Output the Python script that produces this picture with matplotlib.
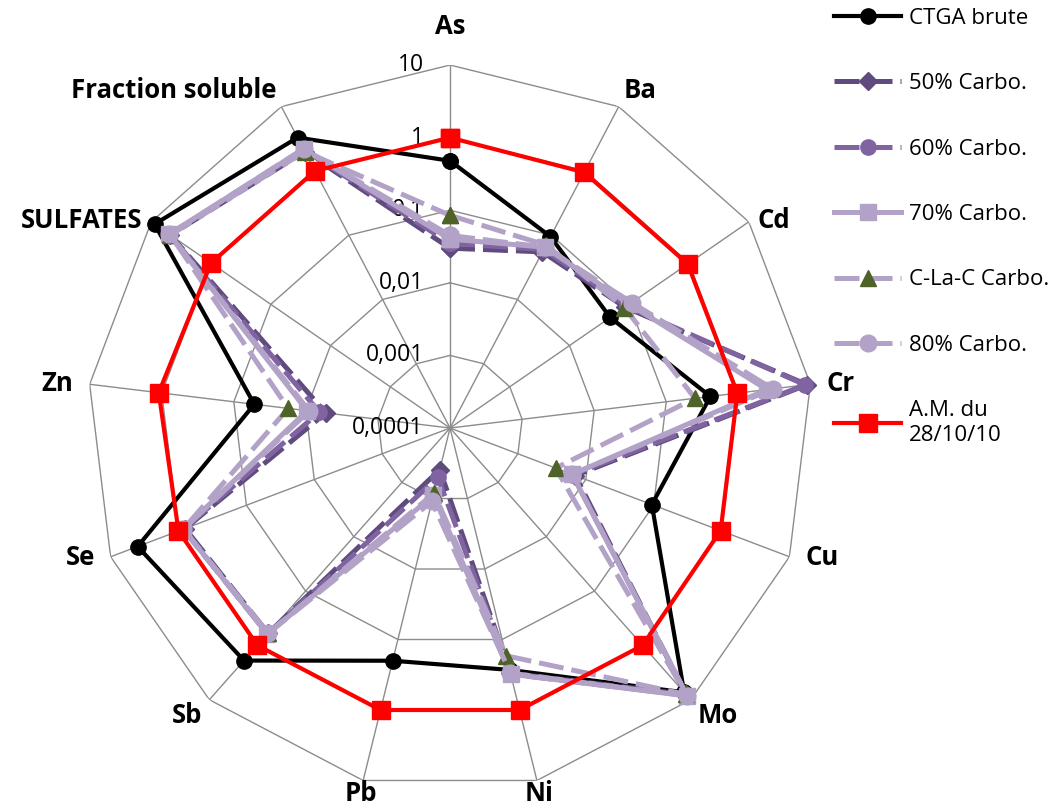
import numpy as np
import matplotlib
matplotlib.use("Agg")
import matplotlib.pyplot as plt

plt.rcParams['font.family'] = ['Open Sans', 'DejaVu Sans']

# categories (clockwise from top)
categories = ['As', 'Ba', 'Cd', 'Cr', 'Cu', 'Mo', 'Ni', 'Pb', 'Sb', 'Se', 'Zn',
              'SULFATES', 'Fraction soluble']

# series values (log radial scale)
ctga_brute = [0.48, 0.095, 0.048, 0.41, 0.094, 7.3, 0.27, 0.20, 1.9, 4.0, 0.052, 8.8, 3.3]
carbo_50 = [0.03, 0.055, 0.085, 9.0, 0.007, 8.0, 0.30, 0.00039, 0.6, 0.8, 0.0053, 4.8, 2.0]
carbo_60 = [0.035, 0.06, 0.09, 8.5, 0.0065, 8.3, 0.31, 0.0005, 0.62, 0.85, 0.0065, 5.0, 2.1]
carbo_70 = [0.04, 0.065, 0.10, 2.5, 0.0063, 8.5, 0.31, 0.0009, 0.62, 0.85, 0.0096, 5.0, 2.2]
carbo_clac = [0.085, 0.07, 0.083, 0.25, 0.0036, 8.0, 0.17, 0.00084, 0.6, 0.85, 0.0176, 4.8, 2.0]
carbo_80 = [0.045, 0.065, 0.11, 3.0, 0.0063, 8.5, 0.30, 0.0011, 0.6, 0.85, 0.009, 5.0, 2.2]
am_281010 = [1.0, 0.95, 0.95, 0.97, 0.97, 1.0, 1.0, 1.0, 1.0, 1.0, 1.1, 1.0, 1.0]

ring_values = [0.0001, 0.001, 0.01, 0.1, 1, 10]
ring_labels = ['0,0001', '0,001', '0,01', '0,1', '1', '10']

n = len(categories)
theta = np.linspace(0, 2 * np.pi, n, endpoint=False)
theta_closed = np.append(theta, theta[0])

fig = plt.figure(figsize=(10.6, 8.08), dpi=100)
ax = fig.add_axes([0.0821, 0.021, 0.6849, 0.8985], projection='polar')
ax.set_theta_offset(np.pi / 2)
ax.set_theta_direction(-1)
ax.set_rscale('log')
ax.set_rlim(ring_values[0], ring_values[-1])
ax.grid(False)
ax.set_xticks([])
ax.set_yticks([])
ax.spines['polar'].set_visible(False)

grid_color = '#8c8c8c'
# polygon rings
for v in ring_values[1:]:
    ax.plot(theta_closed, [v] * (n + 1), color=grid_color, lw=1.0, zorder=1)
# spokes
for t in theta:
    ax.plot([t, t], [ring_values[0], ring_values[-1]], color=grid_color, lw=1.0, zorder=1)

# ring labels along the top axis
for v, lab in zip(ring_values, ring_labels):
    ax.annotate(lab, xy=(0, v), xytext=(-19, 0), textcoords='offset points',
                ha='right', va='center', fontsize=16.5, color='black', zorder=2)

# category labels
for t, cat in zip(theta, categories):
    c = np.sin(t)   # screen x direction
    s = np.cos(t)   # screen y direction
    ha = 'left' if c > 0.3 else ('right' if c < -0.3 else 'center')
    va = 'bottom' if s > 0.6 else ('top' if s < -0.6 else 'center')
    dx = c * 12 if abs(c) > 0.9 else c * 8
    dy = 18 if s > 0.95 else s * 2
    if s < -0.9:
        va, dy = 'baseline', -15
    ax.annotate(cat, xy=(t, ring_values[-1]), xytext=(dx, dy),
                textcoords='offset points', ha=ha, va=va,
                fontsize=18.5, fontweight='bold', annotation_clip=False)

lavender = '#b3a2c7'
series = [
    ('CTGA brute', ctga_brute, dict(color='black', marker='o', ms=11, ls='-', mfc='black', mec='black')),
    ('50% Carbo.', carbo_50, dict(color='#5f4b7d', marker='D', ms=9, ls=(0, (5, 1.6)), mfc='#5f4b7d', mec='#5f4b7d')),
    ('60% Carbo.', carbo_60, dict(color='#8064a2', marker='o', ms=11, ls=(0, (5, 1.6)), mfc='#8064a2', mec='#8064a2')),
    ('70% Carbo.', carbo_70, dict(color=lavender, marker='s', ms=12, ls='-', mfc=lavender, mec=lavender)),
    ('C-La-C Carbo.', carbo_clac, dict(color=lavender, marker='^', ms=11, ls=(0, (5, 1.6)), mfc='#4f6228', mec='#4f6228')),
    ('80% Carbo.', carbo_80, dict(color=lavender, marker='o', ms=12, ls=(0, (5, 1.6)), mfc=lavender, mec=lavender)),
    ('A.M. du\n28/10/10', am_281010, dict(color='#ff0000', marker='s', ms=13, ls='-', mfc='#ff0000', mec='#ff0000')),
]

handles = []
for i, (label, vals, style) in enumerate(series):
    lw = 3.0 if label in ('CTGA brute', 'A.M. du\n28/10/10') else 3.6
    line, = ax.plot(theta_closed, np.append(vals, vals[0]), lw=lw, label=label,
                    zorder=3 + i, clip_on=False, **style)
    handles.append(line)

fig.legend(handles=handles, loc='upper left', bbox_to_anchor=(0.783, 0.996),
           frameon=False, fontsize=16, handlelength=3.0, handletextpad=0.36,
           labelspacing=2.0, borderaxespad=0.0, borderpad=0.2)

fig.savefig('out.png', dpi=100)
